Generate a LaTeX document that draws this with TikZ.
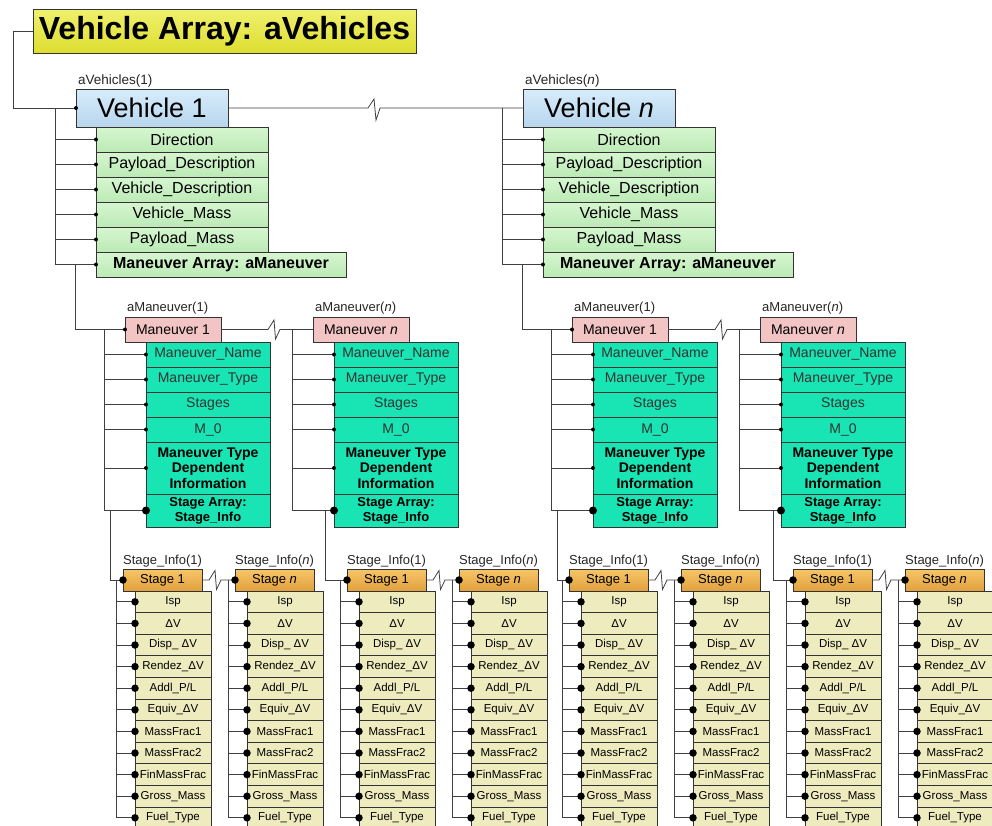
\documentclass[tikz,border=0pt]{standalone}
\usepackage{fontspec}
\setmainfont{Liberation Sans}
\definecolor{ttop}{RGB}{240,240,110}
\definecolor{tbot}{RGB}{222,222,48}
\definecolor{vtop}{RGB}{214,236,250}
\definecolor{vbot}{RGB}{184,214,238}
\definecolor{gtop}{RGB}{214,246,208}
\definecolor{gbot}{RGB}{188,234,182}
\definecolor{mfill}{RGB}{242,196,196}
\definecolor{tfill}{RGB}{24,228,180}
\definecolor{sttop}{RGB}{246,198,104}
\definecolor{stbot}{RGB}{226,160,62}
\definecolor{srfill}{RGB}{238,236,190}
\tikzset{
  box/.style={draw=black!80, line width=0.7pt, inner sep=0pt, outer sep=0pt, anchor=north west, align=center},
  titlebox/.style={box, minimum width=383pt, minimum height=44pt, top color=ttop, bottom color=tbot, font=\fontsize{32}{36}\selectfont\bfseries},
  vehbox/.style={box, minimum width=152pt, minimum height=38pt, top color=vtop, bottom color=vbot, font=\fontsize{27}{30}\selectfont},
  greenrow/.style={box, minimum width=172pt, minimum height=25pt, top color=gtop, bottom color=gbot, font=\fontsize{16}{18}\selectfont},
  greenwide/.style={greenrow, minimum width=250pt, font=\fontsize{16}{18}\selectfont\bfseries},
  manbox/.style={box, minimum width=96pt, minimum height=25pt, fill=mfill, font=\fontsize{14}{16}\selectfont},
  tealrow/.style={box, minimum width=124pt, minimum height=25pt, fill=tfill, font=\fontsize{14}{16}\selectfont, text=black!80},
  tealbold/.style={tealrow, minimum height=52pt, font=\fontsize{14}{15.5}\selectfont\bfseries, text=black},
  tealarr/.style={tealrow, minimum height=33pt, font=\fontsize{13}{15}\selectfont\bfseries, text=black},
  stbox/.style={box, minimum width=79pt, minimum height=22pt, top color=sttop, bottom color=stbot, font=\fontsize{13}{15}\selectfont},
  strow/.style={box, minimum width=76pt, minimum height=21.6pt, fill=srfill, font=\fontsize{11.5}{13}\selectfont},
  lab/.style={anchor=west, inner sep=0pt, text=black!85},
  conn/.style={draw=black!75, line width=0.8pt},
  sdot/.style={circle, fill=black, inner sep=0pt, minimum size=4pt},
  bdot/.style={circle, fill=black, inner sep=0pt, minimum size=8pt},
  mdot/.style={circle, fill=black, inner sep=0pt, minimum size=7.5pt},
}
% vehicle block: id, dx, label index, box text
\newcommand\VehBlock[4]{%
  \node[lab, font=\fontsize{13.5}{15}\selectfont] (#1lab) at (78+#2, 81) {aVehicles(#3)};
  \node[vehbox] (#1) at (76+#2, 89) {#4};
  \foreach [count=\i] \t in {Direction, Payload\_Description, Vehicle\_Description, Vehicle\_Mass, Payload\_Mass}
    \node[greenrow] (#1r\i) at (96+#2, {127+25*(\i-1)}) {\t};
  \node[greenwide] (#1r6) at (96+#2, 252) {Maneuver Array: aManeuver};
  \coordinate (#1T) at (55+#2, 108);
  \draw[conn] (#1T) -- (#1T |- #1r6.west);
  \foreach \i in {1,...,6} \draw[conn] (#1T |- #1r\i.west) -- (#1r\i.west) node[sdot]{};
  \coordinate (#1M) at (75+#2, 264.5);
}
% maneuver block: id, mx, label index, box text
\newcommand\ManBlock[4]{%
  \node[lab, font=\fontsize{13}{15}\selectfont] (#1lab) at (#2+2, 308) {aManeuver(#3)};
  \node[manbox] (#1) at (#2, 317) {#4};
  \foreach [count=\i] \t in {Maneuver\_Name, Maneuver\_Type, Stages, M\_0}
    \node[tealrow] (#1r\i) at (#2+21, {342+25*(\i-1)}) {\t};
  \node[tealbold] (#1r5) at (#2+21, 442) {Maneuver Type\\Dependent\\Information};
  \node[tealarr] (#1r6) at (#2+21, 494) {Stage Array:\\Stage\_Info};
  \coordinate (#1T) at (#2-21, 329.5);
  \draw[conn] (#1T) -- (#1T |- #1r6.west);
  \foreach \i in {1,...,5} \draw[conn] (#1T |- #1r\i.west) -- (#1r\i.west) node[sdot]{};
  \draw[conn] (#1T |- #1r6.west) -- (#1r6.west) node[bdot]{};
}
% stage block: id, sx, label index, box text
\newcommand\StageBlock[4]{%
  \node[lab, font=\fontsize{13}{15}\selectfont] (#1lab) at (#2, 561) {Stage\_Info(#3)};
  \node[stbox] (#1) at (#2, 569) {#4};
  \foreach [count=\i] \t in {Isp, ΔV, Disp\_ ΔV, Rendez\_ΔV, Addl\_P/L, Equiv\_ΔV, MassFrac1, MassFrac2, FinMassFrac, Gross\_Mass, Fuel\_Type}
    \node[strow] (#1r\i) at (#2+12, {591+21.6*(\i-1)}) {\t};
  \coordinate (#1T) at (#2-7, 580);
  \draw[conn] (#1T) -- (#1T |- #1r11.west);
  \foreach \i in {1,...,11} \draw[conn] (#1T |- #1r\i.west) -- (#1r\i.west) node[mdot]{};
}
\newcommand\ZigLink[3]{% from node, to node, zig x offset from start
  \draw[conn] (#1.east) -- ++(#3,0) -- ++(6,-9.5) -- ++(1.5,19) -- ++(4.5,-9.5) -- (#2.west);
}
\begin{document}
\begin{tikzpicture}[x=1pt, y=-1pt]
\useasboundingbox (0,0) rectangle (992,825);
\clip (0,0) rectangle (992,825);
\fill[white] (0,0) rectangle (992,825);

\node[titlebox] (title) at (33,9) {Vehicle Array: aVehicles};

\VehBlock{va}{0}{1}{Vehicle 1}
\VehBlock{vb}{447}{\textit{n}}{Vehicle \textit{n}}

\draw[conn] (title.west) -- ++(-20,0) |- (va.west);
\node[sdot] at (va.west) {};
\draw[conn] (va.east) -- (368,108) -- (374,99) -- (376,120) -- (380,108) -- (vb.west);

\ManBlock{ma}{125}{1}{Maneuver 1}
\ManBlock{mb}{313}{\textit{n}}{Maneuver \textit{n}}
\ManBlock{mc}{572}{1}{Maneuver 1}
\ManBlock{md}{760}{\textit{n}}{Maneuver \textit{n}}

\draw[conn] (vaM) |- (ma.west);
\node[sdot] at (ma.west) {};
\draw[conn] (vbM) |- (mc.west);
\node[sdot] at (mc.west) {};
\ZigLink{ma}{mb}{47}
\ZigLink{mc}{md}{47}

\StageBlock{sa}{123}{1}{Stage 1}
\StageBlock{sb}{235}{\textit{n}}{Stage \textit{n}}
\StageBlock{sc}{347}{1}{Stage 1}
\StageBlock{sd}{459}{\textit{n}}{Stage \textit{n}}
\StageBlock{se}{569}{1}{Stage 1}
\StageBlock{sf}{681}{\textit{n}}{Stage \textit{n}}
\StageBlock{sg}{793}{1}{Stage 1}
\StageBlock{sh}{905}{\textit{n}}{Stage \textit{n}}

\coordinate (caA) at (110,510.5);
\coordinate (caB) at (325,510.5);
\coordinate (caC) at (557,510.5);
\coordinate (caD) at (773,510.5);
\draw[conn] (caA) |- (sa.west); \node[mdot] at (sa.west) {};
\draw[conn] (caB) |- (sc.west); \node[mdot] at (sc.west) {};
\draw[conn] (caC) |- (se.west); \node[mdot] at (se.west) {};
\draw[conn] (caD) |- (sg.west); \node[mdot] at (sg.west) {};

\ZigLink{sa}{sb}{7}
\ZigLink{sc}{sd}{7}
\ZigLink{se}{sf}{7}
\ZigLink{sg}{sh}{7}
\node[mdot] at (sb.west) {};
\node[mdot] at (sd.west) {};
\node[mdot] at (sf.west) {};
\node[mdot] at (sh.west) {};
\end{tikzpicture}
\end{document}
